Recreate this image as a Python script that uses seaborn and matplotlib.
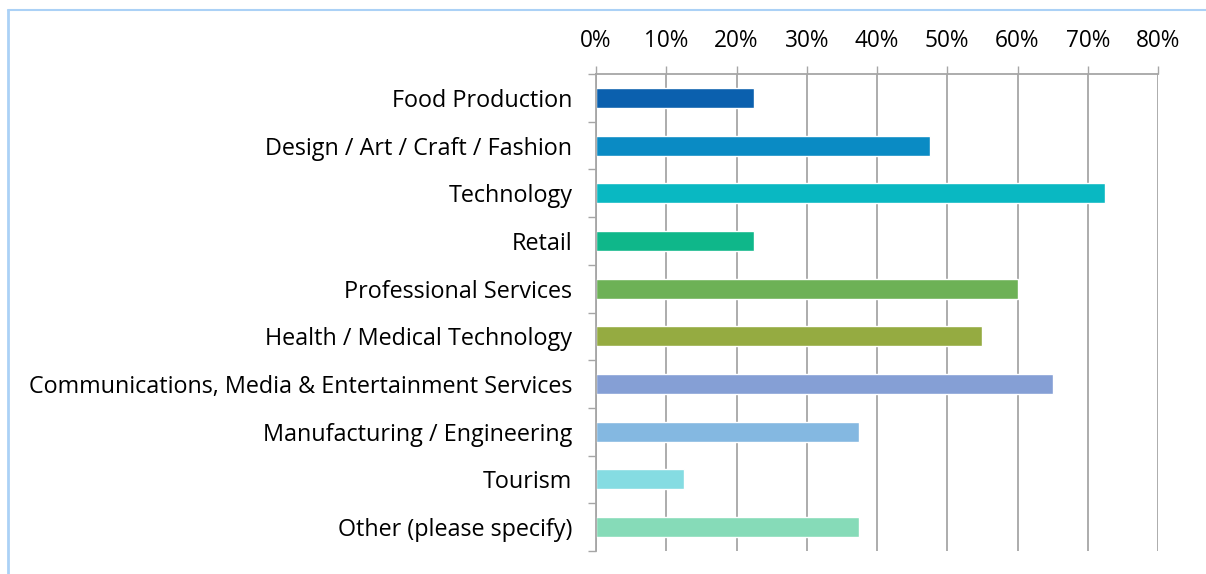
import matplotlib
matplotlib.use("Agg")
import matplotlib.pyplot as plt
import seaborn as sns
import pandas as pd
import numpy as np
from matplotlib.lines import Line2D
from matplotlib.ticker import FixedLocator, PercentFormatter

categories = ["Food Production", "Design / Art / Craft / Fashion", "Technology", "Retail",
              "Professional Services", "Health / Medical Technology",
              "Communications, Media & Entertainment Services", "Manufacturing / Engineering",
              "Tourism", "Other (please specify)"]
values = [22.5, 47.5, 72.5, 22.5, 60.0, 55.0, 65.0, 37.5, 12.5, 37.5]
colors = ["#0B60AE", "#0A8BC4", "#09B8C2", "#0FB78A", "#6DB156", "#95AB41",
          "#859FD5", "#84B8E1", "#85DCE2", "#86DBB8"]
xticks = [0, 10, 20, 30, 40, 50, 60, 70, 80]

sns.set_theme(style="white")
plt.rcParams['font.family'] = ['Open Sans', 'DejaVu Sans']

df = pd.DataFrame({"cat": categories, "val": values})
fig = plt.figure(figsize=(12.06, 5.74), dpi=100)
ax = fig.add_axes([596/1206, 1-551/574, (1158-596)/1206, (551-74)/574])
sns.barplot(data=df, y="cat", x="val", hue="cat", palette=colors, orient="h",
            width=0.42, legend=False, ax=ax, saturation=1)

ax.set_xlim(0, 80)
ax.set_ylim(9.5, -0.5)
ax.set_xticks(xticks)
ax.xaxis.set_major_formatter(PercentFormatter(decimals=0))
ax.xaxis.tick_top()
ax.tick_params(axis="x", which="major", top=True, bottom=False, length=6, width=1,
               color="#A6A6A6", labelsize=16.3, labelcolor="black", pad=9)
ax.grid(axis="x", color="#A6A6A6", linewidth=1.3)
ax.grid(axis="y", visible=False)
ax.set_axisbelow(True)
ax.set_xlabel("")
ax.set_ylabel("")

ax.yaxis.set_minor_locator(FixedLocator(np.arange(-0.5, 10, 1)))
ax.tick_params(axis="y", which="major", length=0, labelsize=16.8, labelcolor="black", pad=17)
ax.tick_params(axis="y", which="minor", left=True, length=6, width=1, color="#A6A6A6")

for s in ["right", "bottom"]:
    ax.spines[s].set_visible(False)
for s in ["top", "left"]:
    ax.spines[s].set_visible(True)
    ax.spines[s].set_color("#A6A6A6")
    ax.spines[s].set_linewidth(1.3)

# outer frame (light blue)
fig.add_artist(Line2D([7.5/1206, 7.5/1206], [0, 1-9.5/574], transform=fig.transFigure,
                      color="#ABD1F6", linewidth=2))
fig.add_artist(Line2D([7.5/1206, 1], [1-9.5/574, 1-9.5/574], transform=fig.transFigure,
                      color="#ABD1F6", linewidth=1.5))

fig.savefig("out.png", dpi=100)
